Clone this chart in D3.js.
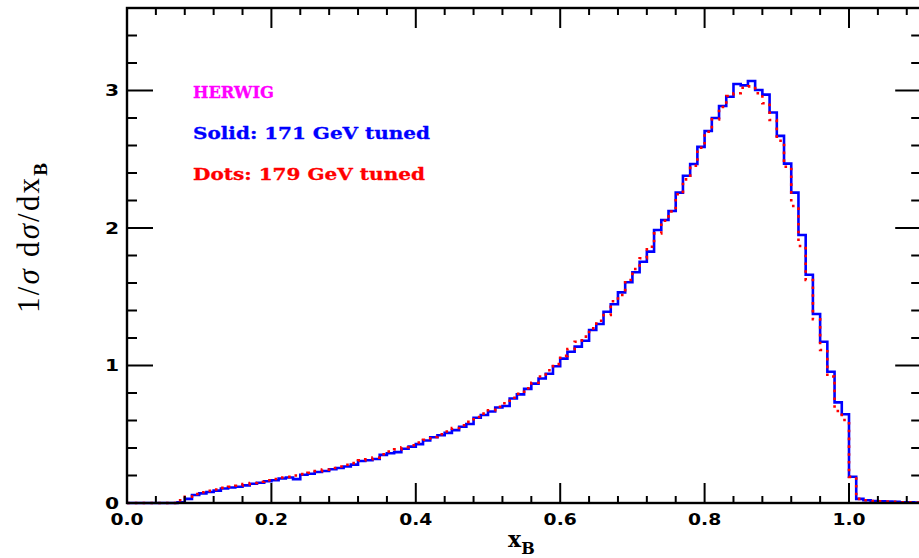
<!DOCTYPE html>
<html>
<head>
<meta charset="utf-8">
<script src="https://cdn.jsdelivr.net/npm/d3@7"></script>
<style>
  html, body { margin: 0; padding: 0; background: #fff; }
  svg { display: block; }
</style>
</head>
<body>
<svg id="chart" width="919" height="558"></svg>
<script>
// ---- data ----
const binWidth = 0.01;               // histogram bin width in x_B
// 171 GeV tuned (solid blue), bins starting at 0.00, 0.01, ... 1.09
const solid171 = [
  0, 0, 0, 0, 0, 0, 0, 0.005, 0.03, 0.058,
  0.07, 0.08, 0.09, 0.105, 0.113, 0.118, 0.128, 0.14, 0.147, 0.158,
  0.166, 0.178, 0.186, 0.174, 0.205, 0.213, 0.225, 0.233, 0.245, 0.255,
  0.266, 0.279, 0.305, 0.311, 0.32, 0.35, 0.362, 0.37, 0.395, 0.41,
  0.428, 0.455, 0.478, 0.493, 0.51, 0.53, 0.555, 0.575, 0.62, 0.64,
  0.665, 0.695, 0.705, 0.76, 0.79, 0.83, 0.868, 0.905, 0.94, 0.995,
  1.05, 1.10, 1.137, 1.18, 1.258, 1.302, 1.391, 1.445, 1.532, 1.605,
  1.678, 1.755, 1.828, 1.985, 2.058, 2.124, 2.257, 2.38, 2.465, 2.59,
  2.705, 2.80, 2.887, 2.955, 3.047, 3.037, 3.069, 3.004, 2.97, 2.84,
  2.67, 2.468, 2.257, 1.949, 1.66, 1.375, 1.173, 0.955, 0.732, 0.645,
  0.191, 0.03, 0.02, 0.015, 0.012, 0.01, 0.008, 0.006, 0.005, 0.004
];
// 179 GeV tuned (red dots)
const dots179 = [
  0, 0, 0, 0, 0, 0, 0, 0.02, 0.045, 0.065,
  0.078, 0.088, 0.098, 0.11, 0.118, 0.125, 0.137, 0.145, 0.155, 0.165,
  0.175, 0.185, 0.19, 0.2, 0.21, 0.22, 0.232, 0.243, 0.255, 0.265,
  0.278, 0.29, 0.31, 0.318, 0.33, 0.355, 0.375, 0.39, 0.405, 0.42,
  0.44, 0.46, 0.48, 0.5, 0.52, 0.545, 0.565, 0.59, 0.625, 0.65,
  0.675, 0.7, 0.725, 0.765, 0.795, 0.835, 0.875, 0.92, 0.965, 1.01,
  1.07, 1.12, 1.173, 1.21, 1.27, 1.326, 1.367, 1.467, 1.513, 1.622,
  1.702, 1.78, 1.864, 1.961, 2.053, 2.12, 2.245, 2.354, 2.453, 2.584,
  2.70, 2.79, 2.88, 2.96, 2.98, 3.02, 3.03, 2.98, 2.907, 2.785,
  2.635, 2.446, 2.16, 1.869, 1.622, 1.336, 1.113, 0.92, 0.669, 0.604,
  0.19, 0.03, 0.02, 0.015, 0.012, 0.01, 0.008, 0.006, 0.005, 0.004
];
const xMajorTicks = [0.0, 0.2, 0.4, 0.6, 0.8, 1.0];
const xTickLabels = ["0.0", "0.2", "0.4", "0.6", "0.8", "1.0"];
const yMajorTicks = [0, 1, 2, 3];
const yTickLabels = ["0", "1", "2", "3"];
const xDomain = [0, 1.1];
const yDomain = [0, 3.6];
const legendLines = ["HERWIG", "Solid: 171 GeV tuned", "Dots: 179 GeV tuned"];

// ---- layout ----
const svg = d3.select("#chart");
const L = 127, R = 921.2, T = 8, B = 503;
const x = d3.scaleLinear().domain(xDomain).range([L, R]);
const y = d3.scaleLinear().domain(yDomain).range([B, T]);

const xMinor = d3.range(0, 1.1001, 0.04).filter(v => !xMajorTicks.some(m => Math.abs(m - v) < 1e-6));
const yMinor = d3.range(0, 3.6001, 0.2).filter(v => !yMajorTicks.some(m => Math.abs(m - v) < 1e-6));

// histogram paths
function stepPoints(vals) {
  const pts = vals.map((v, i) => [i * binWidth, v]);
  pts.push([vals.length * binWidth, vals[vals.length - 1]]);
  return pts;
}
const line = d3.line().x(d => x(d[0])).y(d => y(d[1])).curve(d3.curveStepAfter);

const gPlot = svg.append("g");
gPlot.append("path")
  .attr("d", line(stepPoints(solid171)))
  .attr("fill", "none").attr("stroke", "#0000ff").attr("stroke-width", 2.6)
  .attr("stroke-linejoin", "miter");
gPlot.append("path")
  .attr("d", line(stepPoints(dots179)))
  .attr("fill", "none").attr("stroke", "#ff0000").attr("stroke-width", 2.6)
  .attr("stroke-dasharray", "2.6,5.2");

// frame + ticks
const gAx = svg.append("g").attr("stroke", "#000").attr("stroke-width", 2);
gAx.append("rect").attr("x", L).attr("y", T).attr("width", R - L).attr("height", B - T)
  .attr("fill", "none").attr("stroke-width", 2.4);

function xt(vals, len) {
  vals.forEach(v => {
    gAx.append("line").attr("x1", x(v)).attr("x2", x(v)).attr("y1", B).attr("y2", B - len);
    gAx.append("line").attr("x1", x(v)).attr("x2", x(v)).attr("y1", T).attr("y2", T + len);
  });
}
function yt(vals, len) {
  vals.forEach(v => {
    gAx.append("line").attr("y1", y(v)).attr("y2", y(v)).attr("x1", L).attr("x2", L + len);
    gAx.append("line").attr("y1", y(v)).attr("y2", y(v)).attr("x1", R).attr("x2", R - len);
  });
}
xt(xMajorTicks, 20);
xt(xMinor, 7);
yt(yMajorTicks, 26);
yt(yMinor, 10);

// tick labels
const tickFont = "'DejaVu Sans', sans-serif";
xMajorTicks.forEach((v, i) => {
  svg.append("text")
    .attr("transform", `translate(${x(v)},525) scale(1.25,1)`)
    .attr("text-anchor", "middle")
    .attr("font-family", tickFont).attr("font-weight", "bold").attr("font-size", 15)
    .attr("fill", "#000").text(xTickLabels[i]);
});
yMajorTicks.forEach((v, i) => {
  svg.append("text")
    .attr("transform", `translate(119,${y(v) + 5.5}) scale(1.35,1)`)
    .attr("text-anchor", "end")
    .attr("font-family", tickFont).attr("font-weight", "bold").attr("font-size", 15)
    .attr("fill", "#000").text(yTickLabels[i]);
});

// legend texts
const legendColors = ["#ff00ff", "#0000ff", "#ff0000"];
const legendY = [98, 139, 180];
const legendW = [81, 237, 232];
legendLines.forEach((t, i) => {
  svg.append("text")
    .attr("x", 193).attr("y", legendY[i])
    .attr("font-family", "'DejaVu Serif', serif").attr("font-weight", "bold")
    .attr("font-size", 17)
    .attr("stroke", legendColors[i]).attr("stroke-width", 0.3)
    .attr("textLength", legendW[i]).attr("lengthAdjust", "spacingAndGlyphs")
    .attr("fill", legendColors[i]).text(t);
});

// axis titles
const xl = svg.append("text").attr("x", 508).attr("y", 547)
  .attr("font-family", "'DejaVu Serif', serif").attr("font-weight", "bold")
  .attr("font-size", 22).attr("fill", "#000");
xl.append("tspan").text("x");
xl.append("tspan").attr("dy", 7).attr("font-size", 16).text("B");

const yl = svg.append("text")
  .attr("transform", "translate(39,163) rotate(-90)")
  .attr("text-anchor", "end")
  .attr("font-family", "'Liberation Serif', serif")
  .attr("font-size", 31).attr("fill", "#000")
  .attr("textLength", 150).attr("lengthAdjust", "spacing");
yl.append("tspan").text("1/");
yl.append("tspan").attr("font-style", "italic").text("σ");
yl.append("tspan").text("  d");
yl.append("tspan").attr("font-style", "italic").text("σ");
yl.append("tspan").text("/dx");
yl.append("tspan").attr("dy", 8).attr("font-size", 19).attr("font-weight", "bold").text("B");
</script>
</body>
</html>
